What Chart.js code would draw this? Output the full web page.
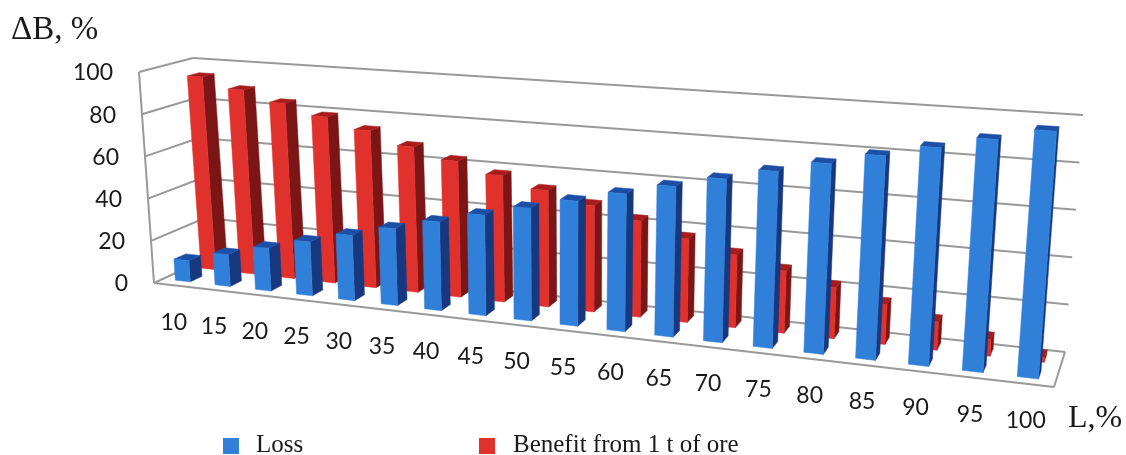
<!DOCTYPE html>
<html lang="en">
<head>
  <meta charset="UTF-8" />
  <title>Loss and benefit from 1 t of ore</title>
  <script src="https://cdn.jsdelivr.net/npm/chart.js"></script>
  <style>
    body { margin: 0; background: #fff; }
    canvas { display: block; }
  </style>
</head>
<body>
  <canvas id="grafico" width="1126" height="455"></canvas>

  <script>
    const categorias = ['10', '15', '20', '25', '30', '35', '40', '45', '50', '55', '60', '65', '70', '75', '80', '85', '90', '95', '100'];
    const perdidas = [10, 15, 20, 25, 30, 35, 40, 45, 50, 55, 60, 65, 70, 75, 80, 85, 90, 95, 100];
    const beneficio = [94, 89, 84, 79, 74, 68, 63, 58, 53, 48, 43, 37, 32, 27, 22, 17, 12, 7, 2];

    // camera: corners of the 3D box as seen on the page
    const caja = {
      sueloFrenteIzq: [154, 283], sueloFrenteDer: [1054, 387],
      sueloFondoIzq: [208, 258], sueloFondoDer: [1065, 352],
      techoFrenteIzq: [139, 72], techoFrenteDer: [1073, 136],
      techoFondoIzq: [193, 58], techoFondoDer: [1083, 115]
    };
    const fuga = 0.833; // foreshortening along the category axis

    // colours per series: front, side, top, and depth range inside the box
    const estilos = [
      { frente: '#3080da', lado: '#17387e', tapa: '#1d4ea6', d0: 0.17, d1: 0.39 },
      { frente: '#e0312d', lado: '#7c1616', tapa: '#a81c1c', d0: 0.65, d1: 0.87 }
    ];

    const lerp = (a, b, t) => [a[0] + (b[0] - a[0]) * t, a[1] + (b[1] - a[1]) * t];
    const paso = u => fuga * u / (1 + (fuga - 1) * u);

    // u: 0..1 along the categories, v: 0..1 along the values, d: 0..1 into the box
    function proyectar(u, v, d) {
      const s = paso(u);
      const abajo = lerp(lerp(caja.sueloFrenteIzq, caja.sueloFrenteDer, s), lerp(caja.sueloFondoIzq, caja.sueloFondoDer, s), d);
      const arriba = lerp(lerp(caja.techoFrenteIzq, caja.techoFrenteDer, s), lerp(caja.techoFondoIzq, caja.techoFondoDer, s), d);
      return lerp(abajo, arriba, v);
    }

    function linea(ctx, a, b) {
      ctx.beginPath();
      ctx.moveTo(a[0], a[1]);
      ctx.lineTo(b[0], b[1]);
      ctx.stroke();
    }

    function cara(ctx, puntos, color) {
      ctx.fillStyle = color;
      ctx.strokeStyle = color;
      ctx.lineWidth = 0.5;
      ctx.beginPath();
      puntos.forEach((p, i) => i ? ctx.lineTo(p[0], p[1]) : ctx.moveTo(p[0], p[1]));
      ctx.closePath();
      ctx.fill();
      ctx.stroke();
    }

    function dibujarBarra(ctx, chart, el, est) {
      const area = chart.chartArea;
      const u0 = (el.x - el.width / 2 - area.left) / area.width;
      const u1 = (el.x + el.width / 2 - area.left) / area.width;
      const v0 = (area.bottom - el.base) / area.height;
      const v1 = (area.bottom - el.y) / area.height;
      const d0 = est.d0, d1 = est.d1;
      cara(ctx, [proyectar(u1, v0, d0), proyectar(u1, v0, d1), proyectar(u1, v1, d1), proyectar(u1, v1, d0)], est.lado);
      cara(ctx, [proyectar(u0, v1, d0), proyectar(u1, v1, d0), proyectar(u1, v1, d1), proyectar(u0, v1, d1)], est.tapa);
      cara(ctx, [proyectar(u0, v0, d0), proyectar(u1, v0, d0), proyectar(u1, v1, d0), proyectar(u0, v1, d0)], est.frente);
    }

    const caja3d = {
      id: 'caja3d',
      beforeDatasetsDraw(chart) {
        const ctx = chart.ctx;
        const escalaY = chart.scales.y;
        ctx.save();

        // walls and floor
        ctx.strokeStyle = '#999999';
        ctx.lineWidth = 2;
        escalaY.ticks.forEach(t => {
          const v = t.value / escalaY.max;
          linea(ctx, proyectar(0, v, 0), proyectar(0, v, 1));
          linea(ctx, proyectar(0, v, 1), proyectar(1, v, 1));
        });
        linea(ctx, proyectar(0, 0, 0), proyectar(0, 1, 0));
        linea(ctx, proyectar(0, 0, 0), proyectar(1, 0, 0));
        linea(ctx, proyectar(1, 0, 0), proyectar(1, 0, 1));

        // back row first, then the front row
        [1, 0].forEach(n => {
          chart.getDatasetMeta(n).data.forEach(el => dibujarBarra(ctx, chart, el, estilos[n]));
        });

        // tick labels
        ctx.fillStyle = '#1a1a1a';
        ctx.font = '23px Lato';
        ctx.textBaseline = 'middle';
        ctx.textAlign = 'right';
        escalaY.ticks.forEach(t => {
          const p = proyectar(0, t.value / escalaY.max, 0);
          ctx.fillText(t.label, p[0] - 26, p[1] + 1);
        });
        ctx.textAlign = 'center';
        chart.data.labels.forEach((txt, i) => {
          const u = (chart.scales.x.getPixelForValue(i) - chart.chartArea.left) / chart.chartArea.width;
          const p = proyectar(u, 0, 0);
          ctx.fillText(txt, p[0], p[1] + 37);
        });

        // axis names
        ctx.textAlign = 'left';
        ctx.textBaseline = 'alphabetic';
        ctx.font = '33px "Liberation Serif"';
        ctx.fillText('ΔB, %', 11, 39);
        ctx.font = '32px "Liberation Serif"';
        ctx.fillText('L,%', 1068, 427);

        // legend
        ctx.font = '25px "Liberation Serif"';
        chart.data.datasets.forEach((ds, n) => {
          const x = n === 0 ? 223 : 479;
          ctx.fillStyle = ds.backgroundColor;
          ctx.fillRect(x, 438, 16, 16);
          ctx.fillStyle = '#1a1a1a';
          ctx.fillText(ds.label, n === 0 ? 256 : 513, 452);
        });

        ctx.restore();
        return false; // the bars above replace the flat ones
      }
    };

    new Chart(document.getElementById('grafico'), {
      type: 'bar',
      data: {
        labels: categorias,
        datasets: [
          { label: 'Loss', data: perdidas, backgroundColor: estilos[0].frente },
          { label: 'Benefit from 1 t of ore', data: beneficio, backgroundColor: estilos[1].frente }
        ]
      },
      options: {
        responsive: false,
        animation: false,
        layout: { padding: 0 },
        datasets: { bar: { grouped: false, barPercentage: 0.38, categoryPercentage: 1 } },
        plugins: { legend: { display: false }, tooltip: { enabled: false } },
        scales: {
          x: { display: false },
          y: { display: false, min: 0, max: 100, ticks: { stepSize: 20 } }
        }
      },
      plugins: [caja3d]
    });
  </script>
</body>
</html>
